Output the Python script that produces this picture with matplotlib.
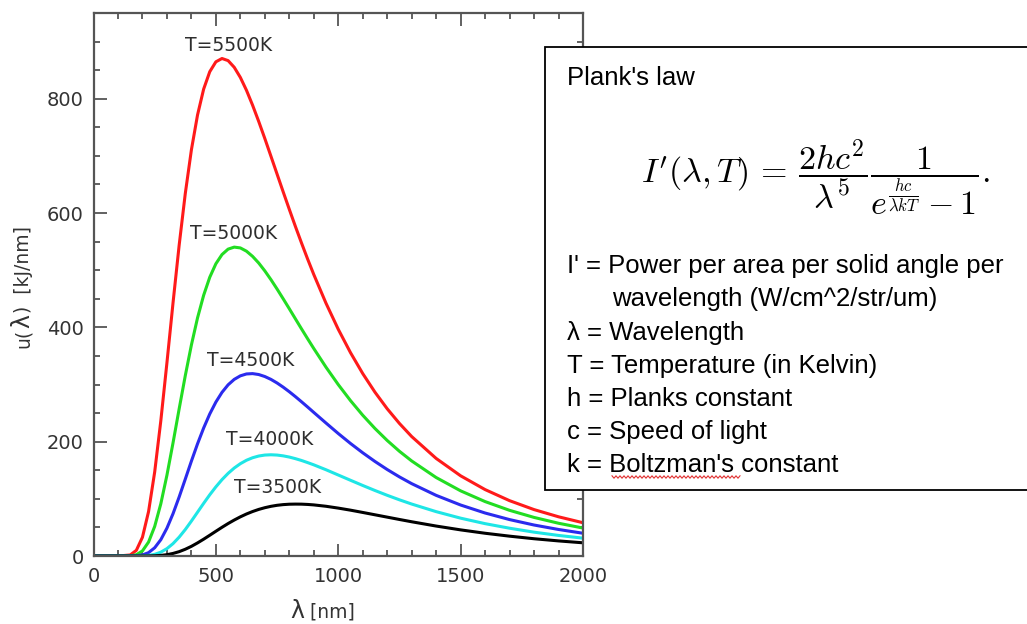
import numpy as np
import matplotlib.pyplot as plt
from matplotlib.patches import Rectangle
from matplotlib.ticker import MultipleLocator

# wavelength grid (nm) and curve values
wavelength = [0, 100, 150, 175, 200, 225, 250, 275, 300, 325, 350, 375, 400, 425, 450,
              475, 500, 525, 550, 575, 600, 625, 650, 675, 700, 725, 750, 775, 800,
              825, 850, 875, 900, 950, 1000, 1050, 1100, 1150, 1200, 1250, 1300, 1400,
              1500, 1600, 1700, 1800, 1900, 2000]

u_5500 = [0, 0, 1.8, 9.9, 32.8, 77.8, 147.0, 236.4, 338.0, 443.2, 543.8, 634.1, 710.6, 771.5,
          816.8, 847.3, 864.6, 870.4, 866.7, 855.0, 837.3, 814.8, 788.7, 760.3, 730.4, 699.4,
          668.2, 637.1, 606.5, 576.5, 547.5, 519.4, 492.5, 442.2, 396.7, 355.8, 319.2, 286.6,
          257.6, 231.9, 209.0, 170.7, 140.3, 116.2, 96.8, 81.2, 68.6, 58.2]
u_5000 = [0, 0, 0.3, 2.2, 8.9, 24.4, 51.7, 91.3, 141.3, 198.1, 257.5, 315.5, 369.2, 416.5,
          456.1, 487.7, 511.3, 527.4, 536.9, 540.4, 539.0, 533.3, 524.2, 512.6, 498.8, 483.5,
          467.1, 450.0, 432.6, 414.9, 397.3, 380.0, 363.0, 330.3, 299.9, 271.9, 246.3, 223.1,
          202.1, 183.2, 166.3, 137.3, 114.0, 95.2, 79.9, 67.5, 57.3, 48.9]
u_4500 = [0, 0, 0.0, 0.4, 1.8, 5.9, 14.4, 28.5, 48.7, 74.1, 103.3, 134.5, 166.0, 196.2,
          223.9, 248.5, 269.3, 286.3, 299.5, 309.0, 315.2, 318.5, 319.1, 317.5, 314.0, 309.0,
          302.7, 295.4, 287.4, 278.8, 269.8, 260.6, 251.2, 232.6, 214.3, 196.9, 180.6, 165.4,
          151.3, 138.4, 126.6, 106.1, 89.2, 75.2, 63.7, 54.2, 46.4, 39.8]
u_4000 = [0, 0, 0.0, 0.0, 0.2, 1.0, 2.9, 6.7, 12.9, 21.7, 33.0, 46.3, 61.1, 76.6,
          92.1, 107.1, 121.0, 133.6, 144.6, 153.9, 161.5, 167.5, 171.9, 174.9, 176.6, 177.1,
          176.6, 175.2, 173.1, 170.3, 167.1, 163.4, 159.5, 150.9, 141.7, 132.5, 123.4, 114.6,
          106.2, 98.3, 90.9, 77.6, 66.2, 56.6, 48.6, 41.7, 36.0, 31.2]
u_3500 = [0, 0, 0.0, 0.0, 0.0, 0.1, 0.4, 1.0, 2.3, 4.5, 7.6, 11.8, 16.9, 22.9,
          29.4, 36.3, 43.3, 50.2, 56.8, 62.9, 68.5, 73.5, 77.8, 81.5, 84.5, 86.9,
          88.7, 89.9, 90.6, 90.8, 90.7, 90.2, 89.4, 87.0, 83.8, 80.2, 76.2, 72.1,
          68.0, 63.9, 59.9, 52.4, 45.7, 39.8, 34.7, 30.2, 26.4, 23.1]

series = [u_5500, u_5000, u_4500, u_4000, u_3500]
colors = ['#ff1a1a', '#22dd22', '#2b2bee', '#1ee6e6', '#000000']
labels = ['T=5500K', 'T=5000K', 'T=4500K', 'T=4000K', 'T=3500K']
label_pos = [(550, 893), (574, 564), (643, 342), (721, 203), (752, 119)]

legend_lines = [
    "I' = Power per area per solid angle per",
    "wavelength (W/cm^2/str/um)",
    "λ = Wavelength",
    "T = Temperature (in Kelvin)",
    "h = Planks constant",
    "c = Speed of light",
    "k = Boltzman's constant",
]

W, H = 1027, 624
fig = plt.figure(figsize=(W / 100, H / 100), dpi=100)
ax = fig.add_axes([93.5 / W, 1 - 556 / H, (583 - 93.5) / W, (556 - 13) / H])

for vals, c in zip(series, colors):
    ax.plot(wavelength, vals, color=c, lw=2.2, solid_capstyle='round',
            solid_joinstyle='round')

for (lx, ly), t in zip(label_pos, labels):
    ax.text(lx, ly, t, ha='center', va='center', fontsize=13.5, color='#2e2e2e')

ax.set_xlim(0, 2000)
ax.set_ylim(0, 950)
ax.xaxis.set_major_locator(MultipleLocator(500))
ax.xaxis.set_minor_locator(MultipleLocator(100))
ax.yaxis.set_major_locator(MultipleLocator(200))
ax.yaxis.set_minor_locator(MultipleLocator(50))
ax.tick_params(which='both', direction='in', top=True, right=True,
               color='#555555', width=1.3, labelsize=14, labelcolor='#333333')
ax.tick_params(which='major', length=9)
ax.tick_params(which='minor', length=4.5)
ax.tick_params(axis='x', which='major', pad=8)
ax.tick_params(axis='y', which='major', pad=7)
for s in ax.spines.values():
    s.set_color('#555555')
    s.set_linewidth(1.6)

# axis labels with a larger lambda, built piece by piece
r = fig.canvas.get_renderer()
lab_col = '#333333'
yx, yy = 29, 1 - 348 / H
for part, size in [('u(', 13.5), ('λ', 17), (')  [kJ/nm]', 13.5)]:
    t = fig.text(yx / W, yy, part, rotation=90, rotation_mode='anchor',
                 ha='left', va='baseline', fontsize=size, color=lab_col)
    yy = t.get_window_extent(r).y1 / H + 1 / H

xx, xy = 290, 1 - 618 / H
for part, size in [('λ', 17), (' [nm]', 13.5)]:
    t = fig.text(xx / W, xy, part, ha='left', va='baseline', fontsize=size, color=lab_col)
    xx = t.get_window_extent(r).x1

# info box on the right
box = Rectangle((545 / W, 1 - 490 / H), 500 / W, (490 - 47) / H, transform=fig.transFigure,
                facecolor='white', edgecolor='black', lw=1.3, zorder=5)
fig.patches.append(box)

sans = ['Liberation Sans', 'DejaVu Sans']
fig.text(567 / W, 1 - 85 / H, "Plank's law", fontsize=18.5, family=sans,
         va='baseline', zorder=6)
plt.rcParams['mathtext.fontset'] = 'cm'
fig.text(815 / W, 1 - 178 / H,
         r"$I'(\lambda,T) \/=\/ \dfrac{2hc^2}{\lambda^5}\dfrac{1}{e^{\frac{hc}{\lambda kT}}-1}.$",
         fontsize=24.5, ha='center', va='center', zorder=6)

baselines = [273, 306, 340, 373, 406, 439, 472]
lefts = [567, 612, 567, 567, 567, 567, 567]
for line, b, lx in zip(legend_lines, baselines, lefts):
    fig.text(lx / W, 1 - b / H, line, fontsize=18.5, family=sans,
             va='baseline', zorder=6)

# spell-check squiggle under "Boltzman's"
sx = np.arange(612, 741, 2)
sy = 477 + np.where(np.arange(len(sx)) % 2 == 0, -1.2, 1.2)
fig.add_artist(plt.Line2D(sx / W, 1 - sy / H, transform=fig.transFigure,
                          color='#e03030', lw=0.8, zorder=7))

fig.savefig('out.png', dpi=100)
